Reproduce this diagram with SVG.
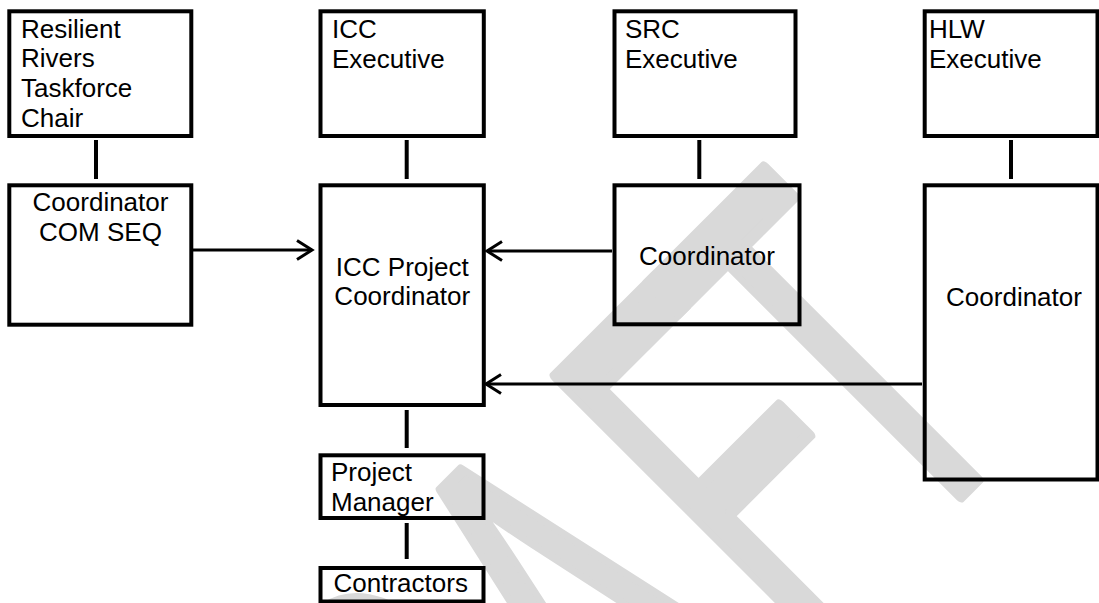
<svg xmlns="http://www.w3.org/2000/svg" width="1099" height="603" viewBox="0 0 1099 603">
<style>
.box{fill:none;stroke:#000;stroke-width:4}
.t{font-family:"Liberation Sans",Arial,sans-serif;font-size:26px;fill:#000}
.c{text-anchor:middle}
.v{stroke:#000;stroke-width:4;fill:none}
.h{stroke:#000;stroke-width:3;fill:none;marker-end:url(#arr)}
.wm{font-family:"Liberation Sans",Arial,sans-serif;font-size:539px;fill:#d9d9d9;stroke:#d9d9d9;stroke-width:10;stroke-linejoin:round}
</style>
<defs>
<marker id="arr" markerUnits="userSpaceOnUse" markerWidth="24" markerHeight="24" viewBox="-20 -12 24 24" refX="0" refY="0" orient="auto">
<path d="M-15,-9.5 L0,0 L-15,9.5" fill="none" stroke="#000" stroke-width="3"/>
</marker>
</defs>
<rect width="1099" height="603" fill="#fff"/>
<g id="watermark">
<text class="wm" transform="rotate(-45) scale(0.55,1)" x="-996 -607 -218 183 454" y="1030" vector-effect="non-scaling-stroke">DRAFT</text>
</g>
<g id="connectors">
<line class="v" x1="96" y1="140" x2="96" y2="179"/>
<line class="v" x1="406.7" y1="140" x2="406.7" y2="179"/>
<line class="v" x1="699.3" y1="140" x2="699.3" y2="179"/>
<line class="v" x1="1011" y1="140" x2="1011" y2="179"/>
<line class="v" x1="406.7" y1="410" x2="406.7" y2="448"/>
<line class="v" x1="406.7" y1="523" x2="406.7" y2="559"/>
<line class="h" x1="193" y1="250" x2="312" y2="250"/>
<line class="h" x1="612" y1="251" x2="487" y2="251"/>
<line class="h" x1="922" y1="384" x2="486" y2="384"/>
</g>
<g id="n-rrtc">
<rect class="box" x="9.3" y="11.3" width="182" height="124.7"/>
<text class="t"><tspan x="21" y="37.5">Resilient</tspan><tspan x="21" y="67.3">Rivers</tspan><tspan x="21" y="97">Taskforce</tspan><tspan x="21" y="127">Chair</tspan></text>
</g>
<g id="n-comseq">
<rect class="box" x="9.3" y="185.3" width="182" height="139.4"/>
<text class="t c"><tspan x="100.5" y="211">Coordinator</tspan><tspan x="100.5" y="240.7">COM SEQ</tspan></text>
</g>
<g id="n-icc-exec">
<rect class="box" x="320.5" y="11.3" width="163.3" height="124.7"/>
<text class="t"><tspan x="332" y="37.5">ICC</tspan><tspan x="332" y="67.5">Executive</tspan></text>
</g>
<g id="n-src-exec">
<rect class="box" x="614.5" y="11.3" width="181" height="124.7"/>
<text class="t"><tspan x="625" y="37.5">SRC</tspan><tspan x="625" y="67.5">Executive</tspan></text>
</g>
<g id="n-hlw-exec">
<rect class="box" x="924.7" y="11.3" width="172.8" height="124.7"/>
<text class="t"><tspan x="929" y="37.5">HLW</tspan><tspan x="929" y="67.5">Executive</tspan></text>
</g>
<g id="n-icc-pc">
<rect class="box" x="320.5" y="185.3" width="163.3" height="219.7"/>
<text class="t c"><tspan x="402.3" y="276">ICC Project</tspan><tspan x="402.3" y="305">Coordinator</tspan></text>
</g>
<g id="n-src-coord">
<rect class="box" x="614.5" y="185.3" width="185" height="139"/>
<text class="t c" x="707" y="265">Coordinator</text>
</g>
<g id="n-hlw-coord">
<rect class="box" x="924.7" y="185.3" width="172.8" height="294.2"/>
<text class="t c" x="1014" y="306">Coordinator</text>
</g>
<g id="n-pm">
<rect class="box" x="320.5" y="455.3" width="163" height="62.7"/>
<text class="t"><tspan x="331" y="480.7">Project</tspan><tspan x="331" y="511">Manager</tspan></text>
</g>
<g id="n-contractors">
<rect class="box" x="320.5" y="568" width="163" height="33.5"/>
<text class="t" x="333.5" y="591.5">Contractors</text>
</g>
</svg>
